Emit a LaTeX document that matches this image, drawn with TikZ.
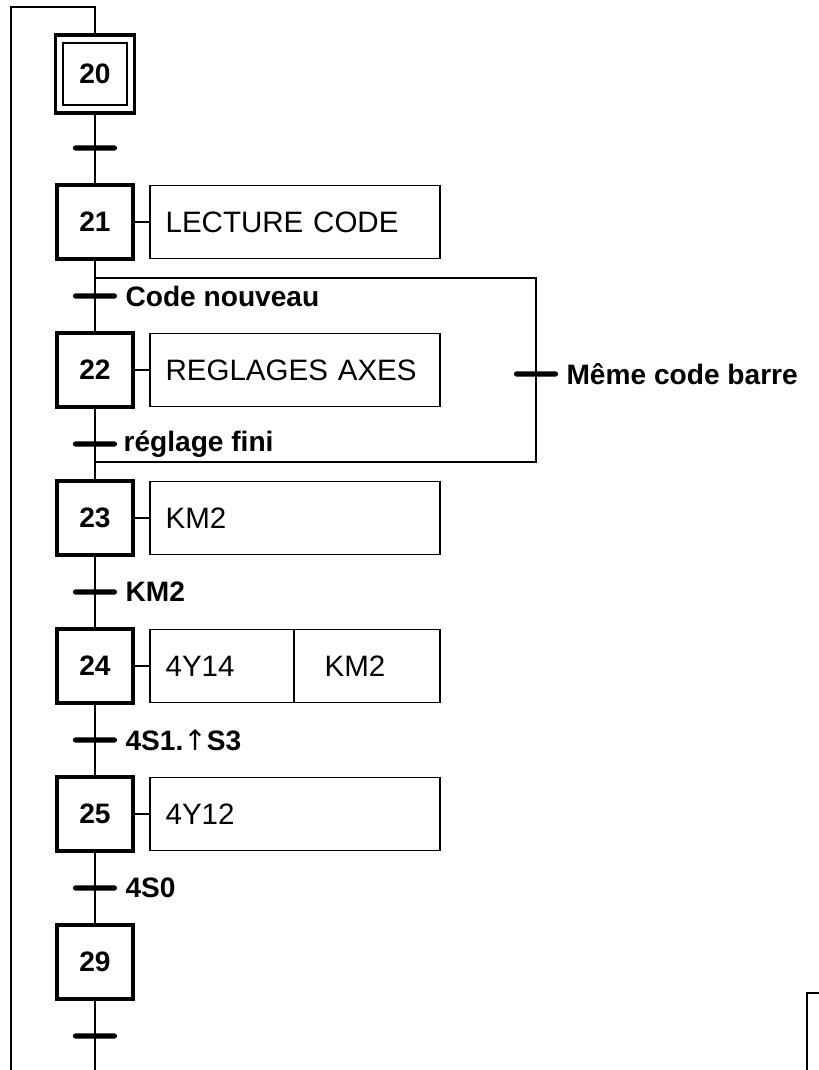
\documentclass[tikz,border=0pt]{standalone}
\usepackage{fontspec}
\setmainfont{Liberation Sans}
\newfontfamily\flechefont{DejaVu Sans}
\usetikzlibrary{positioning}
\tikzstyle{etape} = [
    rectangle,
    minimum width=1.9cm,
    minimum height=1.85cm,
    line width=2.4pt,
    draw=black,
    font=\bfseries\fontsize{20}{24}\selectfont
]
\tikzstyle{initiale} = [
    rectangle,
    minimum width=1.6cm,
    minimum height=1.55cm,
    line width=1.4pt,
    draw=black,
    font=\bfseries\fontsize{20}{24}\selectfont
]
\tikzstyle{action} = [
    rectangle,
    minimum height=1.825cm,
    inner xsep=0.4cm,
    text width=6.45cm,
    align=left,
    line width=1.3pt,
    draw=black,
    font=\fontsize{21}{25}\selectfont
]
\tikzstyle{recept} = [
    rectangle,
    rounded corners=0.06cm,
    minimum width=1.1cm,
    minimum height=0.13cm,
    inner sep=0pt,
    fill=black
]
\tikzstyle{condition} = [inner sep=0.1cm, font=\bfseries\fontsize{20}{24}\selectfont]
\tikzstyle{liaison} = [line width=1.4pt]

\begin{document}
\begin{tikzpicture}[node distance=1.85cm]
\useasboundingbox (0,0) rectangle (20.475,-26.75);

\node (s20) [etape, minimum width=1.975cm, minimum height=1.95cm] at (2.375,-1.85) {};
\node (s20in) [initiale] at (s20) {20};
\node (t20) [recept, below of=s20] {};

\node (s21) [etape, below of=t20] {21};
\node (a21) [action, right=0.35cm of s21] {LECTURE CODE};
\node (t21) [recept, below of=s21] {};
\node (c21) [condition, right=0.1cm of t21] {Code nouveau};

\node (s22) [etape, below of=t21] {22};
\node (a22) [action, right=0.35cm of s22] {REGLAGES AXES};
\node (t22) [recept, below of=s22] {};
\node (c22) [condition, right=0.05cm of t22] {réglage fini};

\node (s23) [etape, below of=t22] {23};
\node (a23) [action, right=0.35cm of s23] {KM2};
\node (t23) [recept, below of=s23] {};
\node (c23) [condition, right=0.1cm of t23] {KM2};

\node (s24) [etape, below of=t23] {24};
\node (a24a) [action, text width=2.8cm, right=0.35cm of s24] {4Y14};
\node (a24b) [action, text width=2.1cm, inner xsep=0.775cm, right=-1.3pt of a24a] {KM2};
\node (t24) [recept, below of=s24] {};
\node (c24) [condition, right=0.1cm of t24] {4S1.{\mdseries\flechefont ↑}S3};

\node (s25) [etape, below of=t24] {25};
\node (a25) [action, right=0.35cm of s25] {4Y12};
\node (t25) [recept, below of=s25] {};
\node (c25) [condition, right=0.1cm of t25] {4S0};

\node (s29) [etape, below of=t25] {29};
\node (t29) [recept, below of=s29] {};

% Saut 21 -> 23
\coordinate (bsplit) at (2.375,-6.95);
\coordinate (bne) at (13.4,-6.95);
\coordinate (bse) at (13.4,-11.55);
\coordinate (bjoin) at (2.375,-11.55);
\node (tb) [recept] at (13.4,-9.35) {};
\node (cb) [condition, right=0.1cm of tb] {Même code barre};

% Bouclage
\coordinate (top) at (2.375,-0.175);
\coordinate (topl) at (0.275,-0.175);
\coordinate (botl) at (0.275,-26.75);
\coordinate (bot) at (2.375,-26.75);

% Liaisons
\draw [liaison] (s20) -- (s21);
\draw [liaison] (s21) -- (s22);
\draw [liaison] (s22) -- (s23);
\draw [liaison] (s23) -- (s24);
\draw [liaison] (s24) -- (s25);
\draw [liaison] (s25) -- (s29);
\draw [liaison] (s29) -- (bot);
\draw [liaison] (s20) -- (top) -- (topl) -- (botl);
\draw [liaison] (bsplit) -- (bne) -- (bse) -- (bjoin);

\draw [liaison] (s21) -- (a21);
\draw [liaison] (s22) -- (a22);
\draw [liaison] (s23) -- (a23);
\draw [liaison] (s24) -- (a24a);
\draw [liaison] (s25) -- (a25);

% coin du cadre voisin
\draw [liaison] (20.475,-24.825) -- (20.175,-24.825) -- (20.175,-26.75);

\end{tikzpicture}
\end{document}
